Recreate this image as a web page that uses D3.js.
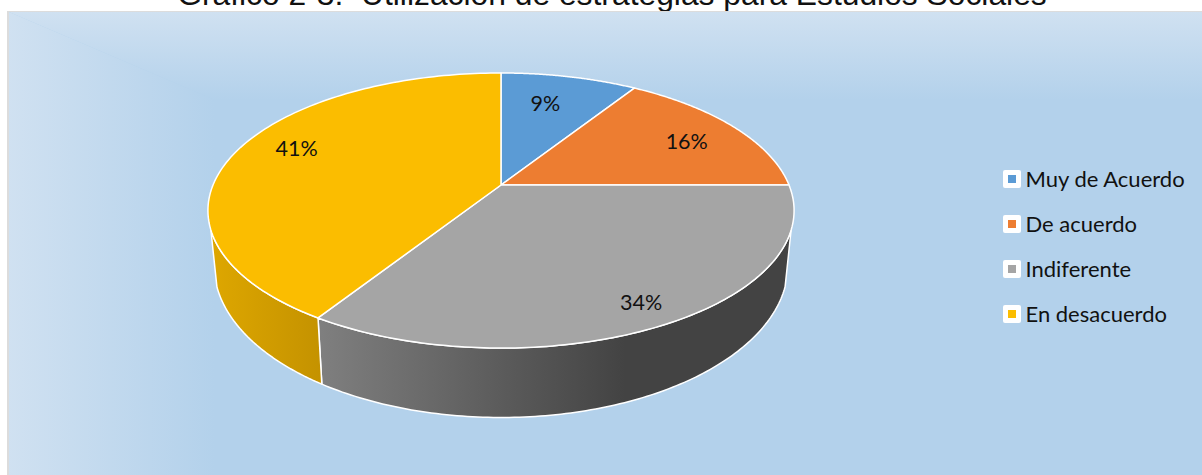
<!DOCTYPE html>
<html>
<head>
<meta charset="utf-8">
<script src="https://cdn.jsdelivr.net/npm/d3@7"></script>
<style>
  html, body { margin: 0; padding: 0; background: #fff; overflow: hidden; }
</style>
</head>
<body>
<div id="chart"></div>
<script>
var width = 1202;
var height = 475;

// data
var categories = ["Muy de Acuerdo", "De acuerdo", "Indiferente", "En desacuerdo"];
var values = [9, 16, 34, 41];
var colors = ["#5b9bd5", "#ed7d31", "#a5a5a5", "#fbbd00"];
var titleText = "Gráfico 2-3:  Utilización de estrategias para Estudios Sociales";

var svg = d3.select("#chart").append("svg")
  .attr("width", width)
  .attr("height", height)
  .style("display", "block");

var defs = svg.append("defs");

function gradient(id, x1, y1, x2, y2, from, to) {
  var g = defs.append("linearGradient")
    .attr("id", id)
    .attr("gradientUnits", "userSpaceOnUse")
    .attr("x1", x1).attr("y1", y1).attr("x2", x2).attr("y2", y2);
  g.append("stop").attr("offset", "0%").attr("stop-color", from);
  g.append("stop").attr("offset", "100%").attr("stop-color", to);
}

// panel background, lighter towards left and top edges
var base = "#b3d1eb";
gradient("bgLeft", 7, 0, 215, 0, "#d0e1f1", base);
gradient("bgTop", 0, 11, 0, 100, "#d0e1f1", base);
gradient("wall2", 320, 0, 625, 0, "#7f7f7f", "#434343");
gradient("wall3", 210, 0, 322, 0, "#dea700", "#c49200");

// title, cut by the top of the picture like the original
svg.append("text")
  .attr("x", 612)
  .attr("y", 5)
  .attr("text-anchor", "middle")
  .style("font-family", "'Liberation Sans', Arial, sans-serif")
  .style("font-size", "31.8px")
  .style("white-space", "pre")
  .attr("fill", "#111")
  .text(titleText);

svg.append("rect").attr("x", 7).attr("y", 11).attr("width", width - 7).attr("height", height - 11).attr("fill", "#dcdcdc");
svg.append("rect").attr("x", 9).attr("y", 12).attr("width", width - 9).attr("height", height - 12).attr("fill", base);
svg.append("path").attr("d", "M9,12L215,100V475H9Z").attr("fill", "url(#bgLeft)");
svg.append("path").attr("d", "M9,12H1202V100H215Z").attr("fill", "url(#bgTop)");

// perspective pie: unit disc -> screen
var pie = d3.pie().sort(null)(values);

function project(d, angle, r) {
  var u = r * Math.sin(angle), v = -r * Math.cos(angle);
  var w = 1 + d.k * v;
  return [d.cx + d.a * u / w, d.cy + d.b * v / w];
}
var topDisc = { cx: 501, cy: 185, a: 288, b: 132.8, k: -0.1855 };
var botDisc = { cx: 501, cy: 237, a: 282, b: 147, k: -0.1855 };

var line = d3.line();

function arcPoints(disc, a0, a1) {
  return d3.range(0, 121).map(function(i) {
    return project(disc, a0 + (a1 - a0) * i / 120, 1);
  });
}

// side wall, only the front part of the rim can be seen
var wallStart = 108.6 * Math.PI / 180;
var wallEnd = 251.4 * Math.PI / 180;
var wallFills = [null, null, "url(#wall2)", "url(#wall3)"];

svg.append("g").selectAll("path")
  .data(pie.filter(function(d) { return wallFills[d.index]; }))
  .enter()
  .append("path")
  .attr("d", function(d) {
    var a0 = Math.max(d.startAngle, wallStart);
    var a1 = Math.min(d.endAngle, wallEnd);
    return line(arcPoints(topDisc, a0, a1).concat(arcPoints(botDisc, a1, a0))) + "Z";
  })
  .attr("fill", function(d) { return wallFills[d.index]; })
  .attr("stroke", "#fff")
  .attr("stroke-width", 1.5)
  .attr("stroke-linejoin", "round");

// top face
svg.append("g").selectAll("path")
  .data(pie)
  .enter()
  .append("path")
  .attr("d", function(d) {
    return line([[topDisc.cx, topDisc.cy]].concat(arcPoints(topDisc, d.startAngle, d.endAngle))) + "Z";
  })
  .attr("fill", function(d) { return colors[d.index]; })
  .attr("stroke", "#fff")
  .attr("stroke-width", 1.5)
  .attr("stroke-linejoin", "round");

// data labels: mid angle on the disc plus a hand nudge
var labelR = [0.8, 0.72, 0.72, 0.78];
var labelNudge = [[-12, 8], [15, 0], [27, 23], [3, -9]];

var labels = svg.append("g").selectAll("text")
  .data(pie)
  .enter()
  .append("text")
  .attr("transform", function(d) {
    var p = project(topDisc, (d.startAngle + d.endAngle) / 2, labelR[d.index]);
    var n = labelNudge[d.index];
    return "translate(" + (p[0] + n[0]) + "," + (p[1] + n[1]) + ")";
  })
  .attr("dy", "0.35em")
  .attr("text-anchor", "middle")
  .style("font-family", "Lato, sans-serif")
  .style("font-size", "21.5px")
  .attr("fill", "#111")
  .text(function(d) { return d.value + "%"; });

// legend
var legendY = d3.scalePoint().domain(categories).range([179, 314]);

var legend = svg.append("g").selectAll("g")
  .data(categories)
  .enter()
  .append("g")
  .attr("transform", function(d) { return "translate(1003," + legendY(d) + ")"; });

legend.append("rect")
  .attr("x", 0).attr("y", -9)
  .attr("width", 18).attr("height", 18)
  .attr("rx", 2)
  .attr("fill", "#fff");

legend.append("rect")
  .attr("x", 5).attr("y", -4)
  .attr("width", 8).attr("height", 8)
  .attr("fill", function(d, i) { return colors[i]; });

legend.append("text")
  .attr("x", 22.5)
  .attr("dy", "0.35em")
  .style("font-family", "Lato, sans-serif")
  .style("font-size", "22px")
  .attr("fill", "#111")
  .text(function(d) { return d; });
</script>
</body>
</html>
